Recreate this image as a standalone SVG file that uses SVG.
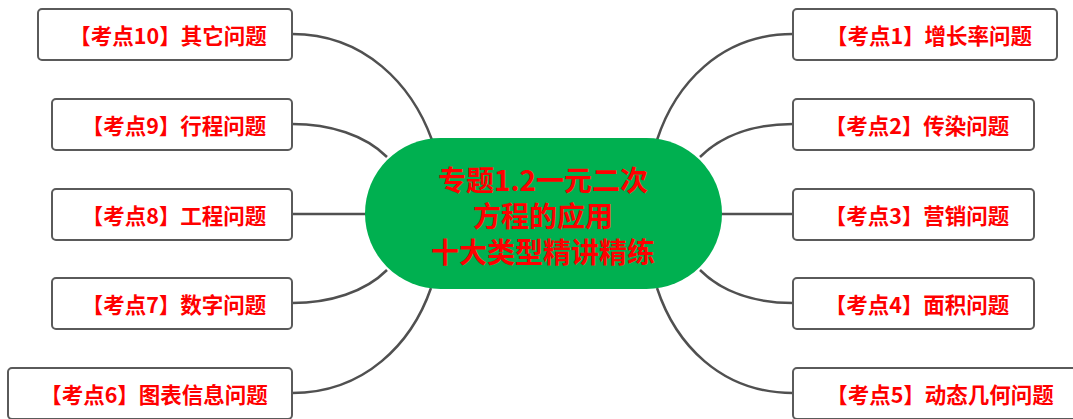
<svg xmlns="http://www.w3.org/2000/svg" width="1073" height="419" viewBox="0 0 1073 419">
<style>
.box{fill:#fff;stroke:#5a5a5a;stroke-width:2}
.lbl{font-family:"Noto Sans CJK SC","Microsoft YaHei",sans-serif;font-weight:bold;font-size:21.5px;fill:#ff0000;text-anchor:middle;dominant-baseline:central}
.ctr{font-family:"Noto Sans CJK SC","Microsoft YaHei",sans-serif;font-weight:bold;font-size:28px;fill:#ff0000;text-anchor:middle;dominant-baseline:central}
.con{fill:none;stroke:#505050;stroke-width:2.5}
</style>
<rect width="1073" height="419" fill="#fff"/>
<g id="connectors">
<path class="con" d="M292,34 C365,34 412,85 432,140"/>
<path class="con" d="M292,124 C330,124 365,135 387,157"/>
<path class="con" d="M292,214 L366,214"/>
<path class="con" d="M292,303 C330,303 365,292 387,270"/>
<path class="con" d="M292,393 C365,393 412,343 431,288"/>
<path class="con" d="M793,34 C720,34 675,85 657,140"/>
<path class="con" d="M793,124 C755,124 722,135 700,157"/>
<path class="con" d="M793,214 L721,214"/>
<path class="con" d="M793,303 C755,303 722,292 700,270"/>
<path class="con" d="M793,393 C720,393 675,343 657,288"/>
</g>
<g id="center">
<rect x="365" y="138" width="357" height="151" rx="75.5" fill="#00b050"/>
<text class="ctr" x="543" y="179">专题1.2一元二次</text>
<text class="ctr" x="543" y="215">方程的应用</text>
<text class="ctr" x="543" y="251">十大类型精讲精练</text>
</g>
<g id="node10"><rect class="box" x="38" y="9" width="254" height="51" rx="4"/><text class="lbl" x="168" y="34.5">【考点10】其它问题</text></g>
<g id="node9"><rect class="box" x="52" y="99" width="240" height="51" rx="4"/><text class="lbl" x="174" y="124.5">【考点9】行程问题</text></g>
<g id="node8"><rect class="box" x="52" y="189" width="240" height="51" rx="4"/><text class="lbl" x="174" y="214.5">【考点8】工程问题</text></g>
<g id="node7"><rect class="box" x="52" y="278" width="240" height="51" rx="4"/><text class="lbl" x="174" y="303.5">【考点7】数字问题</text></g>
<g id="node6"><rect class="box" x="8" y="368" width="284" height="51" rx="4"/><text class="lbl" x="154" y="393.5">【考点6】图表信息问题</text></g>
<g id="node1"><rect class="box" x="793" y="9" width="264" height="51" rx="4"/><text class="lbl" x="929" y="34.5">【考点1】增长率问题</text></g>
<g id="node2"><rect class="box" x="793" y="99" width="241" height="51" rx="4"/><text class="lbl" x="917" y="124.5">【考点2】传染问题</text></g>
<g id="node3"><rect class="box" x="793" y="189" width="241" height="51" rx="4"/><text class="lbl" x="917" y="214.5">【考点3】营销问题</text></g>
<g id="node4"><rect class="box" x="793" y="278" width="241" height="51" rx="4"/><text class="lbl" x="917" y="303.5">【考点4】面积问题</text></g>
<g id="node5"><rect class="box" x="793" y="368" width="290" height="51" rx="4"/><text class="lbl" x="940" y="393.5">【考点5】动态几何问题</text></g>
</svg>
